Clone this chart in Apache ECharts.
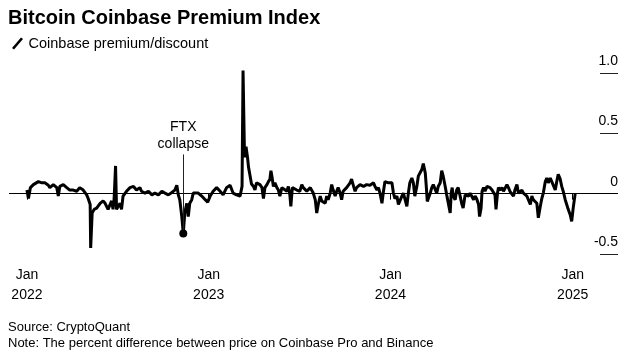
<!DOCTYPE html>
<html>
<head>
<meta charset="utf-8">
<script src="https://cdn.jsdelivr.net/npm/echarts@6/dist/echarts.min.js"></script>
<style>
  html, body { margin: 0; padding: 0; background: #fff; }
  #chart { width: 632px; height: 354px; }
</style>
</head>
<body>
<div id="chart"></div>
<script>
// values (percent premium/discount)
var dates = [
  '2022-01-01','2022-01-04','2022-01-08','2022-01-14','2022-01-17','2022-01-24','2022-01-31','2022-02-06','2022-02-13','2022-02-16',
  '2022-02-23','2022-03-02','2022-03-05','2022-03-08','2022-03-15','2022-03-22','2022-03-28','2022-04-04','2022-04-11','2022-04-17',
  '2022-04-21','2022-04-24','2022-04-28','2022-05-01','2022-05-04','2022-05-08','2022-05-09','2022-05-12','2022-05-16','2022-05-21',
  '2022-05-28','2022-06-03','2022-06-07','2022-06-10','2022-06-13','2022-06-17','2022-06-20','2022-06-23','2022-06-25','2022-06-28',
  '2022-06-30','2022-07-03','2022-07-07','2022-07-10','2022-07-13','2022-07-17','2022-07-20','2022-07-27','2022-08-03','2022-08-09',
  '2022-08-16','2022-08-19','2022-08-26','2022-09-02','2022-09-09','2022-09-15','2022-09-22','2022-09-29','2022-10-05','2022-10-12',
  '2022-10-19','2022-10-25','2022-10-29','2022-11-01','2022-11-04','2022-11-08','2022-11-11','2022-11-14','2022-11-18','2022-11-21',
  '2022-11-24','2022-11-28','2022-12-01','2022-12-05','2022-12-11','2022-12-18','2022-12-25','2022-12-30','2023-01-04','2023-01-10',
  '2023-01-17','2023-01-24','2023-01-30','2023-02-06','2023-02-13','2023-02-19','2023-02-26','2023-03-05','2023-03-08','2023-03-09',
  '2023-03-11','2023-03-14','2023-03-15','2023-03-17','2023-03-20','2023-03-22','2023-03-25','2023-03-28','2023-04-01','2023-04-04',
  '2023-04-07','2023-04-11','2023-04-14','2023-04-18','2023-04-21','2023-04-24','2023-04-28','2023-05-01','2023-05-04','2023-05-06',
  '2023-05-08','2023-05-11','2023-05-14','2023-05-18','2023-05-21','2023-05-24','2023-05-28','2023-05-31','2023-06-07','2023-06-10',
  '2023-06-13','2023-06-15','2023-06-18','2023-06-20','2023-06-27','2023-07-03','2023-07-07','2023-07-10','2023-07-17','2023-07-20',
  '2023-07-24','2023-07-30','2023-08-03','2023-08-06','2023-08-09','2023-08-13','2023-08-16','2023-08-19','2023-08-23','2023-08-26',
  '2023-08-29','2023-09-02','2023-09-05','2023-09-08','2023-09-12','2023-09-15','2023-09-18','2023-09-22','2023-09-25','2023-09-28',
  '2023-10-02','2023-10-05','2023-10-08','2023-10-12','2023-10-15','2023-10-19','2023-10-22','2023-10-25','2023-11-01','2023-11-08',
  '2023-11-14','2023-11-21','2023-11-24','2023-11-28','2023-12-01','2023-12-05','2023-12-08','2023-12-11','2023-12-15','2023-12-18',
  '2023-12-21','2023-12-25','2023-12-28','2023-12-31','2024-01-04','2024-01-07','2024-01-10','2024-01-14','2024-01-17','2024-01-20',
  '2024-01-24','2024-01-27','2024-01-30','2024-02-03','2024-02-06','2024-02-09','2024-02-13','2024-02-16','2024-02-19','2024-02-23',
  '2024-02-26','2024-03-01','2024-03-04','2024-03-07','2024-03-11','2024-03-13','2024-03-15','2024-03-17','2024-03-21','2024-03-24',
  '2024-03-27','2024-03-31','2024-04-03','2024-04-06','2024-04-10','2024-04-13','2024-04-16','2024-04-20','2024-04-23','2024-04-26',
  '2024-04-30','2024-05-02','2024-05-04','2024-05-06','2024-05-10','2024-05-13','2024-05-16','2024-05-20','2024-05-23','2024-05-26',
  '2024-05-30','2024-06-02','2024-06-06','2024-06-09','2024-06-12','2024-06-16','2024-06-19','2024-06-22','2024-06-26','2024-06-28',
  '2024-07-01','2024-07-03','2024-07-06','2024-07-09','2024-07-13','2024-07-16','2024-07-19','2024-07-23','2024-07-26','2024-07-29',
  '2024-07-31','2024-08-03','2024-08-05','2024-08-08','2024-08-12','2024-08-15','2024-08-18','2024-08-22','2024-08-25','2024-08-28',
  '2024-09-01','2024-09-04','2024-09-07','2024-09-11','2024-09-14','2024-09-17','2024-09-21','2024-09-24','2024-09-27','2024-10-01',
  '2024-10-04','2024-10-08','2024-10-11','2024-10-14','2024-10-18','2024-10-21','2024-10-24','2024-10-28','2024-10-31','2024-11-03',
  '2024-11-07','2024-11-10','2024-11-13','2024-11-17','2024-11-20','2024-11-23','2024-11-27','2024-11-30','2024-12-03','2024-12-07',
  '2024-12-10','2024-12-13','2024-12-17','2024-12-20','2024-12-23','2024-12-27','2024-12-30','2025-01-02','2025-01-06'
];
var premium = [
  0.03, -0.04, 0.05, 0.075, 0.09, 0.10, 0.09, 0.09, 0.07, 0.05,
  0.075, 0.05, -0.02, 0.06, 0.075, 0.05, 0.03, 0.03, 0.02, 0.05,
  0.06, 0.03, 0.02, -0.01, -0.04, -0.09, -0.45, -0.16, -0.13, -0.12,
  -0.08, -0.06, -0.08, -0.105, -0.13, -0.09, -0.06, -0.13, -0.05, 0.23,
  -0.13, -0.12, -0.08, -0.13, -0.02, -0.01, 0.02, 0.05, 0.06, 0.03,
  0.05, 0.02, 0.005, 0.02, -0.01, 0.005, -0.01, 0.02, 0.005, -0.01,
  0.01, 0.03, 0.07, -0.01, -0.05, -0.19, -0.33, -0.16, -0.08, -0.19,
  -0.08, -0.05, 0.005, 0.02, 0.005, -0.02, -0.05, -0.07, -0.02, 0.02,
  0.05, 0.02, -0.01, 0.05, 0.07, 0.005, -0.01, -0.02, -0.01, 0.06,
  1.02, 0.30, 0.36, 0.39, 0.30, 0.22, 0.15, 0.08, 0.06, 0.03,
  0.09, 0.10, 0.075, 0.05, -0.04, 0.05, 0.075, 0.10, 0.12, 0.19,
  0.145, 0.06, 0.09, 0.05, 0.03, -0.02, 0.05, 0.06, 0.02, 0.06,
  -0.01, -0.105, 0.05, 0.06, 0.03, 0.02, 0.075, 0.05, 0.02, 0.03,
  0.05, 0.005, -0.05, -0.16, -0.09, -0.02, -0.06, -0.05, -0.08, -0.02,
  -0.05, 0.005, 0.075, 0.03, -0.02, 0.02, 0.05, 0.005, -0.05, 0.02,
  0.03, 0.05, 0.06, 0.09, 0.12, 0.06, 0.02, 0.05, 0.075, 0.06,
  0.075, 0.07, 0.075, 0.09, 0.06, 0.03, 0.05, 0.005, -0.08, 0.02,
  0.10, 0.10, 0.09, 0.10, 0.09, 0.005, -0.04, -0.02, -0.09, -0.105,
  -0.02, 0.005, 0.02, -0.105, 0.005, 0.09, 0.13, 0.09, -0.02, 0.06,
  0.145, 0.16, 0.20, 0.25, 0.17, 0.06, -0.065, -0.05, 0.005, 0.05,
  0.075, 0.06, 0.005, 0.06, 0.09, 0.19, 0.145, 0.06, -0.01, -0.02,
  -0.16, 0.005, 0.05, -0.02, -0.05, 0.03, 0.05, -0.02, -0.08, -0.12,
  -0.01, 0.005, -0.02, 0.005, -0.02, -0.05, -0.02, -0.04, -0.09, -0.19,
  -0.12, 0.02, 0.05, 0.02, 0.06, 0.075, 0.05, 0.03, 0.02, -0.01,
  -0.13, 0.005, 0.05, 0.03, 0.05, 0.02, 0.03, 0.075, 0.05, 0.02,
  0.005, -0.02, 0.03, 0.075, 0.005, 0.02, 0.03, 0.005, 0.02, -0.02,
  -0.01, -0.09, -0.02, -0.05, -0.04, -0.08, -0.2, -0.105, -0.04, 0.005,
  0.10, 0.13, 0.09, 0.13, 0.10, 0.09, 0.03, 0.10, 0.16, 0.12,
  0.06, 0.02, -0.05, -0.09, -0.13, -0.175, -0.23, -0.12, 0.0
];
var ftxDate = '2022-11-11';
var ftxValue = -0.33;

var seriesData = dates.map(function(d, i) { return [d, premium[i]]; });
var font = 'Liberation Sans, Arial, sans-serif';

var chart = echarts.init(document.getElementById('chart'));
var option = {
  animation: false,
  backgroundColor: '#fff',
  textStyle: { fontFamily: font, color: '#000' },
  title: {
    text: 'Bitcoin Coinbase Premium Index',
    left: 8, top: 8, padding: 0,
    textStyle: { fontSize: 20, fontWeight: 'bold', color: '#000', fontFamily: font }
  },
  legend: {
    left: 12, top: 36, padding: 0,
    itemWidth: 12, itemHeight: 12, itemGap: 7,
    icon: 'path://M0,10.5 L9,0 L11,1.5 L2,12 Z',
    textStyle: { fontSize: 14.5, color: '#000', fontFamily: font },
    data: ['Coinbase premium/discount']
  },
  grid: { left: 9, right: 14, top: 73, bottom: 100 },
  xAxis: {
    type: 'time',
    min: '2021-11-26',
    max: '2025-04-02',
    minInterval: 365 * 24 * 3600 * 1000,
    maxInterval: 365 * 24 * 3600 * 1000,
    axisLine: { show: false },
    axisTick: { show: true, length: 6, lineStyle: { color: '#000', width: 1 } },
    splitLine: { show: false },
    axisLabel: {
      margin: 11, fontSize: 14, lineHeight: 20, color: '#000', fontFamily: font,
      formatter: function(v) { return 'Jan\n' + new Date(v).getFullYear(); }
    }
  },
  yAxis: {
    type: 'value',
    position: 'right',
    min: -0.5, max: 1.0, interval: 0.5,
    axisLine: { show: false },
    splitLine: { show: false },
    axisTick: { show: true, inside: true, length: 18, lineStyle: { color: '#222', width: 1 } },
    axisLabel: {
      inside: true, margin: 0, fontSize: 14, color: '#000', fontFamily: font,
      verticalAlign: 'bottom', padding: [0, 0, 5, 0],
      formatter: function(v) { return v === 0 ? '0' : v.toFixed(1); }
    }
  },
  graphic: [
    { type: 'text', left: 8, top: 321, style: { text: 'Source: CryptoQuant', fontSize: 13, fill: '#000', fontFamily: font } },
    { type: 'text', left: 8, top: 337, style: { text: 'Note: The percent difference between price on Coinbase Pro and Binance', fontSize: 13, fill: '#000', fontFamily: font } }
  ],
  series: [{
    name: 'Coinbase premium/discount',
    type: 'line',
    data: seriesData,
    showSymbol: false,
    clip: false,
    color: '#000',
    lineStyle: { color: '#000', width: 3 },
    z: 3,
    markLine: {
      silent: true,
      symbol: 'none',
      animation: false,
      data: [
        { yAxis: 0, lineStyle: { color: '#000', width: 1, type: 'solid' }, label: { show: false } },
        [
          { coord: [ftxDate, ftxValue] },
          {
            coord: [ftxDate, 0.325],
            lineStyle: { color: '#222', width: 1, type: 'solid' },
            label: {
              show: true, position: 'end', distance: 2,
              formatter: 'FTX\ncollapse',
              fontSize: 14, lineHeight: 17, color: '#000', fontFamily: font
            }
          }
        ]
      ]
    },
    markPoint: {
      silent: true,
      symbol: 'circle',
      symbolSize: 8,
      itemStyle: { color: '#000' },
      label: { show: false },
      data: [{ coord: [ftxDate, ftxValue] }]
    }
  }]
};
chart.setOption(option);
</script>
</body>
</html>
